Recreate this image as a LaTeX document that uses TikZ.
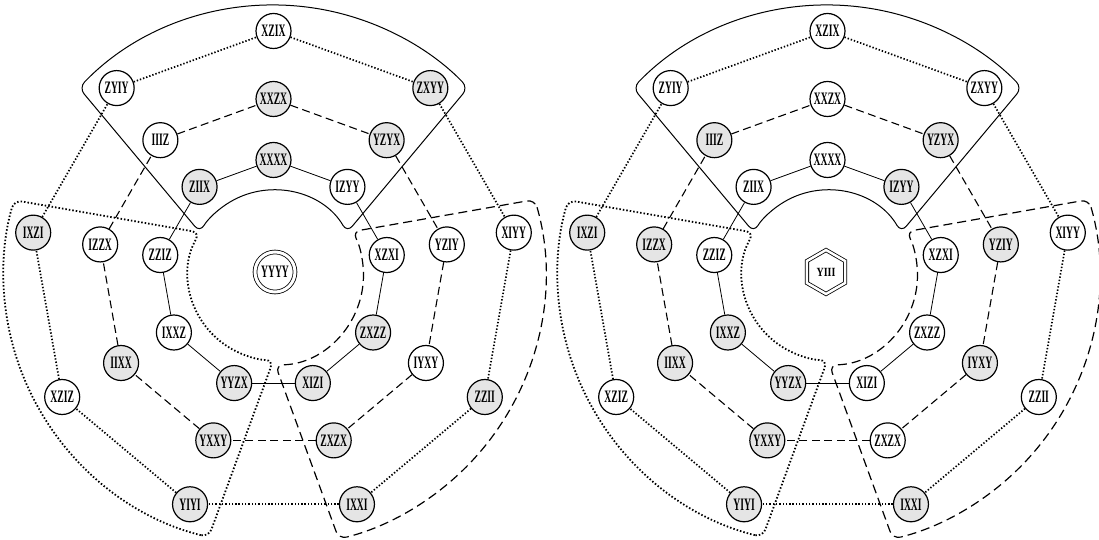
\documentclass[tikz,border=0pt]{standalone}
\usepackage{graphicx}
\usepackage{fontspec}
\usetikzlibrary{shapes.geometric}

\newfontfamily\lblfont{Liberation Serif}
\newcommand{\lbl}[1]{\scalebox{0.55}[1]{\fontsize{17.5}{17.5}\selectfont\lblfont\bfseries #1}}
\newcommand{\lbls}[1]{\scalebox{0.8}[1]{\fontsize{12.5}{12.5}\selectfont\lblfont\bfseries #1}}

\tikzset{
  vtx/.style={circle, draw, line width=1.2pt, minimum size=35pt, inner sep=0pt, fill=white},
  gvtx/.style={vtx, fill=black!10},
  ringa/.style={line width=0.8pt},
  ringb/.style={line width=1.1pt, dash pattern=on 8pt off 4.5pt},
  ringc/.style={line width=1.7pt, dash pattern=on 1.4pt off 1.9pt},
  grpa/.style={line width=1pt, rounded corners=8pt},
  grpb/.style={line width=1.8pt, dash pattern=on 1.5pt off 2pt, rounded corners=8pt},
  grpc/.style={line width=1.2pt, dash pattern=on 9pt off 5pt, rounded corners=8pt},
}

\begin{document}
\begin{tikzpicture}[x=1pt, y=1pt]
  \useasboundingbox (0,0) rectangle (1099,540);

  % left wheel
  \begin{scope}[shift={(273.5,265)}]
    \draw[grpa] (136.1:270) arc[start angle=136.1, end angle=43.9, radius=270] -- (30.05:85) arc[start angle=30.05, end angle=149.95, radius=85] -- cycle;
    \draw[grpb] (256.1:270) arc[start angle=256.1, end angle=163.9, radius=270] -- (150.05:85) arc[start angle=150.05, end angle=269.95, radius=85] -- cycle;
    \draw[grpc] (16.1:272) arc[start angle=16.1, end angle=-76.1, radius=272] -- (-88.8:90) arc[start angle=-88.8, end angle=28.8, radius=90] -- cycle;

    \node[vtx, double, double distance=3pt, line width=0.8pt, minimum size=40pt] (lctr) at (1.5,3) {\lbl{YYYY}};

    \node[gvtx] (la0) at (90:115) {\lbl{XXXX}};
    \node[vtx] (la1) at (50:115) {\lbl{IZYY}};
    \node[vtx] (la2) at (10:115) {\lbl{XZXI}};
    \node[gvtx] (la3) at (-30:115) {\lbl{ZXZZ}};
    \node[gvtx] (la4) at (-70:115) {\lbl{XIZI}};
    \node[gvtx] (la5) at (-110:115) {\lbl{YYZX}};
    \node[vtx] (la6) at (-150:115) {\lbl{IXXZ}};
    \node[vtx] (la7) at (170:115) {\lbl{ZZIZ}};
    \node[gvtx] (la8) at (130:115) {\lbl{ZIIX}};

    \node[gvtx] (lb0) at (90:176) {\lbl{XXZX}};
    \node[gvtx] (lb1) at (50:176) {\lbl{YZYX}};
    \node[vtx] (lb2) at (10:176) {\lbl{YZIY}};
    \node[vtx] (lb3) at (-30:176) {\lbl{IYXY}};
    \node[gvtx] (lb4) at (-70:176) {\lbl{ZXZX}};
    \node[gvtx] (lb5) at (-110:176) {\lbl{YXXY}};
    \node[gvtx] (lb6) at (-150:176) {\lbl{IIXX}};
    \node[vtx] (lb7) at (170:176) {\lbl{IZZX}};
    \node[vtx] (lb8) at (130:176) {\lbl{IIIZ}};

    \node[vtx] (lc0) at (90:244) {\lbl{XZIX}};
    \node[gvtx] (lc1) at (50:244) {\lbl{ZXYY}};
    \node[vtx] (lc2) at (10:244) {\lbl{XIYY}};
    \node[gvtx] (lc3) at (-30:244) {\lbl{ZZII}};
    \node[gvtx] (lc4) at (-70:244) {\lbl{IXXI}};
    \node[gvtx] (lc5) at (-110:244) {\lbl{YIYI}};
    \node[vtx] (lc6) at (-150:244) {\lbl{XZIZ}};
    \node[gvtx] (lc7) at (170:244) {\lbl{IXZI}};
    \node[vtx] (lc8) at (130:244) {\lbl{ZYIY}};

    \draw[ringa] (la0) -- (la1);
    \draw[ringa] (la1) -- (la2);
    \draw[ringa] (la2) -- (la3);
    \draw[ringa] (la3) -- (la4);
    \draw[ringa] (la4) -- (la5);
    \draw[ringa] (la5) -- (la6);
    \draw[ringa] (la6) -- (la7);
    \draw[ringa] (la7) -- (la8);
    \draw[ringa] (la8) -- (la0);

    \draw[ringb] (lb0) -- (lb1);
    \draw[ringb] (lb1) -- (lb2);
    \draw[ringb] (lb2) -- (lb3);
    \draw[ringb] (lb3) -- (lb4);
    \draw[ringb] (lb4) -- (lb5);
    \draw[ringb] (lb5) -- (lb6);
    \draw[ringb] (lb6) -- (lb7);
    \draw[ringb] (lb7) -- (lb8);
    \draw[ringb] (lb8) -- (lb0);

    \draw[ringc] (lc0) -- (lc1);
    \draw[ringc] (lc1) -- (lc2);
    \draw[ringc] (lc2) -- (lc3);
    \draw[ringc] (lc3) -- (lc4);
    \draw[ringc] (lc4) -- (lc5);
    \draw[ringc] (lc5) -- (lc6);
    \draw[ringc] (lc6) -- (lc7);
    \draw[ringc] (lc7) -- (lc8);
    \draw[ringc] (lc8) -- (lc0);
  \end{scope}

  % right wheel
  \begin{scope}[shift={(827.5,265)}]
    \draw[grpa] (136.1:270) arc[start angle=136.1, end angle=43.9, radius=270] -- (30.05:85) arc[start angle=30.05, end angle=149.95, radius=85] -- cycle;
    \draw[grpb] (256.1:270) arc[start angle=256.1, end angle=163.9, radius=270] -- (150.05:85) arc[start angle=150.05, end angle=269.95, radius=85] -- cycle;
    \draw[grpc] (16.1:272) arc[start angle=16.1, end angle=-76.1, radius=272] -- (-88.8:90) arc[start angle=-88.8, end angle=28.8, radius=90] -- cycle;

    \node[draw, regular polygon, regular polygon sides=6, shape border rotate=30, double, double distance=2.5pt, line width=0.8pt, minimum size=44pt, inner sep=0pt] (rctr) at (-1.5,3) {\lbls{YIII}};

    \node[vtx] (ra0) at (90:115) {\lbl{XXXX}};
    \node[gvtx] (ra1) at (50:115) {\lbl{IZYY}};
    \node[vtx] (ra2) at (10:115) {\lbl{XZXI}};
    \node[vtx] (ra3) at (-30:115) {\lbl{ZXZZ}};
    \node[vtx] (ra4) at (-70:115) {\lbl{XIZI}};
    \node[gvtx] (ra5) at (-110:115) {\lbl{YYZX}};
    \node[gvtx] (ra6) at (-150:115) {\lbl{IXXZ}};
    \node[vtx] (ra7) at (170:115) {\lbl{ZZIZ}};
    \node[vtx] (ra8) at (130:115) {\lbl{ZIIX}};

    \node[vtx] (rb0) at (90:176) {\lbl{XXZX}};
    \node[gvtx] (rb1) at (50:176) {\lbl{YZYX}};
    \node[gvtx] (rb2) at (10:176) {\lbl{YZIY}};
    \node[gvtx] (rb3) at (-30:176) {\lbl{IYXY}};
    \node[vtx] (rb4) at (-70:176) {\lbl{ZXZX}};
    \node[gvtx] (rb5) at (-110:176) {\lbl{YXXY}};
    \node[gvtx] (rb6) at (-150:176) {\lbl{IIXX}};
    \node[gvtx] (rb7) at (170:176) {\lbl{IZZX}};
    \node[gvtx] (rb8) at (130:176) {\lbl{IIIZ}};

    \node[vtx] (rc0) at (90:244) {\lbl{XZIX}};
    \node[vtx] (rc1) at (50:244) {\lbl{ZXYY}};
    \node[vtx] (rc2) at (10:244) {\lbl{XIYY}};
    \node[vtx] (rc3) at (-30:244) {\lbl{ZZII}};
    \node[gvtx] (rc4) at (-70:244) {\lbl{IXXI}};
    \node[gvtx] (rc5) at (-110:244) {\lbl{YIYI}};
    \node[vtx] (rc6) at (-150:244) {\lbl{XZIZ}};
    \node[gvtx] (rc7) at (170:244) {\lbl{IXZI}};
    \node[vtx] (rc8) at (130:244) {\lbl{ZYIY}};

    \draw[ringa] (ra0) -- (ra1);
    \draw[ringa] (ra1) -- (ra2);
    \draw[ringa] (ra2) -- (ra3);
    \draw[ringa] (ra3) -- (ra4);
    \draw[ringa] (ra4) -- (ra5);
    \draw[ringa] (ra5) -- (ra6);
    \draw[ringa] (ra6) -- (ra7);
    \draw[ringa] (ra7) -- (ra8);
    \draw[ringa] (ra8) -- (ra0);

    \draw[ringb] (rb0) -- (rb1);
    \draw[ringb] (rb1) -- (rb2);
    \draw[ringb] (rb2) -- (rb3);
    \draw[ringb] (rb3) -- (rb4);
    \draw[ringb] (rb4) -- (rb5);
    \draw[ringb] (rb5) -- (rb6);
    \draw[ringb] (rb6) -- (rb7);
    \draw[ringb] (rb7) -- (rb8);
    \draw[ringb] (rb8) -- (rb0);

    \draw[ringc] (rc0) -- (rc1);
    \draw[ringc] (rc1) -- (rc2);
    \draw[ringc] (rc2) -- (rc3);
    \draw[ringc] (rc3) -- (rc4);
    \draw[ringc] (rc4) -- (rc5);
    \draw[ringc] (rc5) -- (rc6);
    \draw[ringc] (rc6) -- (rc7);
    \draw[ringc] (rc7) -- (rc8);
    \draw[ringc] (rc8) -- (rc0);
  \end{scope}
\end{tikzpicture}
\end{document}
